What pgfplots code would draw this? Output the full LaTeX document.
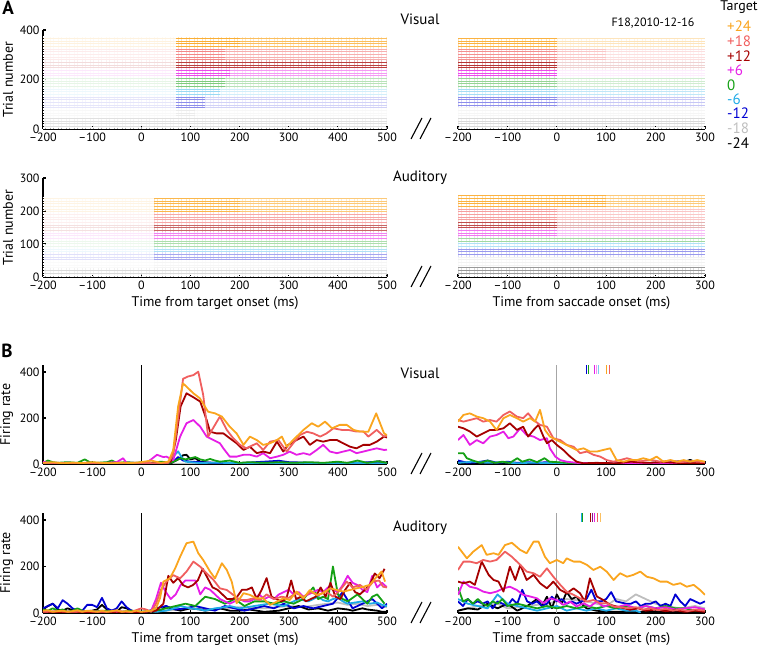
\documentclass[border=0pt]{standalone}
\usepackage{pgfplots}
\pgfplotsset{compat=1.18}
\usetikzlibrary{patterns.meta}
\usepackage{fontspec}
\setmainfont{PT Sans}
\definecolor{cOr}{RGB}{250,165,30}
\definecolor{cSa}{RGB}{240,95,95}
\definecolor{cDr}{RGB}{165,0,0}
\definecolor{cMa}{RGB}{230,30,230}
\definecolor{cGr}{RGB}{20,160,20}
\definecolor{cLb}{RGB}{30,170,230}
\definecolor{cBl}{RGB}{0,0,210}
\definecolor{cGy}{RGB}{190,190,190}
\definecolor{cBk}{RGB}{0,0,0}
% raster band: color, x1, x2, y1, y2, density
\newcommand{\seg}[6]{\addplot[draw=none,fill=#1,fill opacity=#6,forget plot] coordinates {(#2,#4) (#3,#4) (#3,#5) (#2,#5)} -- cycle;}
\newcommand{\rows}[4]{\addplot[draw=none,pattern={Lines[angle=0,distance=1.6pt,line width=0.45pt]},pattern color=white,forget plot] coordinates {(#1,#3) (#2,#3) (#2,#4) (#1,#4)} -- cycle;}
\pgfplotsset{
 common/.style={scale only axis, axis line style={line width=2pt,-}, tick style={line width=1.2pt,black},
   major tick length=3pt, tick align=inside,
   ticklabel style={font=\fontsize{12}{14}\selectfont}, /pgf/number format/assume math mode=true,
   label style={font=\fontsize{14}{16}\selectfont}, xmin=-200, ymin=0, axis x line*=bottom},
 leftp/.style={common, width=344pt, xmax=500, xtick={-200,-100,...,500},
   xticklabels={–200,–100,0,100,200,300,400,500}, axis y line*=left},
 rightp/.style={common, width=247pt, xmax=300, xtick={-200,-100,...,300},
   xticklabels={–200,–100,0,100,200,300}, axis y line=none},
 fr/.style={line width=1.8pt, line join=round, forget plot},
}
\begin{document}
\begin{tikzpicture}
\path[use as bounding box] (0,0) rectangle (760pt,647pt);
%================ Visual raster, target aligned
\begin{axis}[leftp, at={(43pt,518pt)}, anchor=south west, height=99pt, ymax=400, ytick={0,200,400}, ylabel={Trial number}]
\seg{cOr}{-200}{70}{327}{372}{0.14}\seg{cOr}{70}{200}{327}{372}{0.9}\seg{cOr}{200}{500}{327}{372}{0.72}
\seg{cSa}{-200}{70}{279}{327}{0.12}\seg{cSa}{70}{170}{279}{327}{0.75}\seg{cSa}{170}{500}{279}{327}{0.5}
\seg{cDr}{-200}{70}{246}{279}{0.14}\seg{cDr}{70}{500}{246}{279}{0.75}
\seg{cMa}{-200}{70}{206}{246}{0.1}\seg{cMa}{70}{180}{206}{246}{0.8}\seg{cMa}{180}{500}{206}{246}{0.45}
\seg{cGr}{-200}{70}{165}{206}{0.1}\seg{cGr}{70}{170}{165}{206}{0.55}\seg{cGr}{170}{500}{165}{206}{0.3}
\seg{cLb}{-200}{70}{129}{165}{0.08}\seg{cLb}{70}{160}{129}{165}{0.45}\seg{cLb}{160}{500}{129}{165}{0.2}
\seg{cBl}{-200}{70}{85}{129}{0.1}\seg{cBl}{70}{130}{85}{129}{0.45}\seg{cBl}{130}{500}{85}{129}{0.18}
\seg{cGy}{-200}{70}{44}{85}{0.1}\seg{cGy}{70}{110}{44}{85}{0.3}\seg{cGy}{110}{500}{44}{85}{0.12}
\seg{cBk}{-200}{500}{4}{44}{0.12}
\rows{-200}{500}{2}{374}
\end{axis}
\begin{axis}[rightp, at={(458pt,518pt)}, anchor=south west, height=99pt, ymax=400]
\seg{cOr}{-200}{0}{323}{368}{0.85}\seg{cOr}{0}{300}{323}{368}{0.3}
\seg{cSa}{-200}{0}{279}{323}{0.7}\seg{cSa}{0}{100}{279}{323}{0.35}\seg{cSa}{100}{300}{279}{323}{0.2}
\seg{cDr}{-200}{0}{238}{279}{0.8}\seg{cDr}{0}{300}{238}{279}{0.18}
\seg{cMa}{-200}{0}{206}{238}{0.8}\seg{cMa}{0}{300}{206}{238}{0.08}
\seg{cGr}{-200}{0}{165}{206}{0.45}\seg{cGr}{0}{300}{165}{206}{0.2}
\seg{cLb}{-200}{0}{130}{165}{0.4}\seg{cLb}{0}{300}{130}{165}{0.28}
\seg{cBl}{-200}{0}{89}{130}{0.45}\seg{cBl}{0}{300}{89}{130}{0.22}
\seg{cGy}{-200}{300}{44}{89}{0.15}
\seg{cBk}{-200}{300}{4}{44}{0.15}
\rows{-200}{300}{2}{370}
\end{axis}
%================ Auditory raster
\begin{axis}[leftp, at={(43pt,370pt)}, anchor=south west, height=99pt, ymax=300, ytick={0,100,200,300}, ylabel={Trial number}, xlabel={Time from target onset (ms)}]
\seg{cOr}{-200}{25}{197}{239}{0.12}\seg{cOr}{25}{200}{197}{239}{0.8}\seg{cOr}{200}{500}{197}{239}{0.6}
\seg{cSa}{-200}{25}{158}{197}{0.1}\seg{cSa}{25}{500}{158}{197}{0.55}
\seg{cDr}{-200}{25}{136}{158}{0.12}\seg{cDr}{25}{500}{136}{158}{0.6}
\seg{cMa}{-200}{25}{112}{136}{0.1}\seg{cMa}{25}{500}{112}{136}{0.55}
\seg{cGr}{-200}{25}{91}{112}{0.08}\seg{cGr}{25}{500}{91}{112}{0.35}
\seg{cLb}{-200}{25}{76}{91}{0.08}\seg{cLb}{25}{500}{76}{91}{0.35}
\seg{cBl}{-200}{25}{52}{76}{0.12}\seg{cBl}{25}{500}{52}{76}{0.35}
\seg{cGy}{-200}{25}{27}{52}{0.08}\seg{cGy}{25}{500}{27}{52}{0.15}
\seg{cBk}{-200}{500}{6}{27}{0.15}
\rows{-200}{500}{2}{242}
\end{axis}
\begin{axis}[rightp, at={(458pt,370pt)}, anchor=south west, height=99pt, ymax=300, xlabel={Time from saccade onset (ms)}]
\seg{cOr}{-200}{100}{212}{248}{0.85}\seg{cOr}{100}{300}{212}{248}{0.6}
\seg{cSa}{-200}{0}{167}{212}{0.6}\seg{cSa}{0}{300}{167}{212}{0.35}
\seg{cDr}{-200}{0}{148}{167}{0.7}\seg{cDr}{0}{300}{148}{167}{0.3}
\seg{cMa}{-200}{0}{118}{148}{0.6}\seg{cMa}{0}{300}{118}{148}{0.3}
\seg{cGr}{-200}{300}{106}{118}{0.4}
\seg{cLb}{-200}{300}{88}{106}{0.35}
\seg{cBl}{-200}{300}{61}{88}{0.4}
\seg{cGy}{-200}{300}{30}{61}{0.2}
\seg{cBk}{-200}{300}{6}{30}{0.4}
\rows{-200}{300}{2}{250}
\end{axis}
%================ Visual firing rate, target aligned
\begin{axis}[leftp, at={(43pt,183pt)}, anchor=south west, height=99pt, ymax=430, ytick={0,200,400}, ylabel={Firing rate}]
\addplot[black, line width=0.6pt, forget plot] coordinates {(0,0) (0,430)};
\addplot[fr, cGy] coordinates {(-200,2) (0,1) (200,2) (500,2)};
\addplot[fr, cBk] coordinates {(-200,2)(-100,3)(0,2)(60,3)(75,20)(85,38)(92,40)(100,20)(110,25)(120,10)(140,5)(200,3)(300,4)(400,3)(470,5)(485,12)(500,4)};
\addplot[fr, cBl] coordinates {(-200,3)(-100,2)(0,3)(50,2)(65,10)(75,30)(85,15)(100,10)(120,8)(150,5)(200,4)(250,10)(280,14)(300,8)(350,5)(400,4)(450,6)(480,10)(500,5)};
\addplot[fr, cLb] coordinates {(-200,2)(-100,3)(0,2)(50,3)(60,10)(68,40)(75,55)(82,30)(90,10)(100,8)(120,4)(150,6)(200,3)(250,5)(300,3)(350,4)(400,3)(450,4)(500,3)};
\addplot[fr, cGr] coordinates {(-200,5)(-190,15)(-180,8)(-170,5)(-150,8)(-130,5)(-115,20)(-105,8)(-90,5)(-70,8)(-60,15)(-50,5)(-30,8)(-10,5)(0,8)(20,5)(40,10)(60,5)(70,15)(80,25)(90,20)(100,25)(110,30)(120,20)(130,15)(140,22)(150,15)(160,10)(180,15)(200,5)(220,8)(250,5)(280,8)(310,5)(340,8)(370,5)(400,10)(420,5)(440,15)(460,5)(480,12)(500,5)};
\addplot[fr, cMa] coordinates {(-200,10)(-190,5)(-170,3)(-150,5)(-130,3)(-110,5)(-90,3)(-70,5)(-50,8)(-37,25)(-30,5)(-10,5)(0,3)(10,5)(20,20)(32,40)(45,30)(51,32)(65,17)(79,119)(92,177)(106,191)(120,162)(133,119)(147,104)(160,90)(167,68)(180,32)(194,32)(208,40)(221,40)(235,32)(248,47)(262,25)(276,32)(289,40)(302,54)(316,40)(330,47)(343,40)(357,61)(370,83)(384,54)(398,47)(411,54)(425,61)(438,47)(452,54)(465,61)(479,68)(494,61)(500,62)};
\addplot[fr, cDr] coordinates {(-200,2)(-150,4)(-100,2)(-50,4)(0,2)(40,3)(60,10)(70,100)(80,250)(92,307)(106,290)(120,271)(133,191)(140,140)(153,133)(167,133)(180,112)(194,90)(208,61)(221,75)(235,47)(248,54)(262,47)(276,97)(289,54)(299,83)(316,104)(330,119)(343,83)(357,104)(370,97)(384,104)(398,104)(411,90)(425,75)(438,68)(452,83)(465,83)(479,97)(494,119)(500,115)};
\addplot[fr, cSa] coordinates {(-200,3)(-170,5)(-140,2)(-110,5)(-80,3)(-50,5)(-20,3)(0,5)(30,3)(55,5)(65,40)(75,200)(85,370)(95,380)(106,386)(116,401)(126,300)(136,119)(150,170)(160,206)(174,148)(187,112)(201,83)(214,68)(235,90)(248,61)(262,97)(279,104)(296,54)(309,90)(323,126)(337,140)(350,133)(364,119)(377,133)(391,155)(408,148)(421,148)(438,141)(452,141)(462,119)(479,148)(494,119)(500,125)};
\addplot[fr, cOr] coordinates {(-200,5)(-180,8)(-160,3)(-140,6)(-120,4)(-100,8)(-80,5)(-60,3)(-40,6)(-20,4)(0,8)(20,15)(40,5)(55,10)(65,60)(75,250)(85,350)(95,330)(106,307)(119,286)(136,227)(150,220)(164,206)(180,162)(194,133)(208,83)(221,119)(235,104)(248,83)(262,90)(276,104)(286,119)(296,75)(309,104)(330,148)(347,177)(360,162)(374,184)(388,155)(404,170)(418,170)(432,148)(445,141)(462,140)(478,220)(494,133)(500,125)};
\end{axis}
\begin{axis}[rightp, at={(458pt,183pt)}, anchor=south west, height=99pt, ymax=430]
\addplot[gray!70, line width=1.2pt, forget plot] coordinates {(0,0) (0,430)};
\addplot[fr, cBk] coordinates {(-200,3)(-100,2)(0,3)(100,2)(200,4)(260,10)(270,18)(280,8)(300,3)};
\addplot[fr, cBl] coordinates {(-200,15)(-180,5)(-160,8)(-140,15)(-120,5)(-100,10)(-80,5)(-60,8)(-40,5)(-20,8)(0,5)(50,3)(100,4)(150,3)(200,5)(250,12)(280,8)(300,5)};
\addplot[fr, cLb] coordinates {(-200,5)(-170,10)(-140,5)(-110,8)(-80,3)(-50,6)(-20,4)(0,5)(50,3)(100,2)(200,3)(300,2)};
\addplot[fr, cGr] coordinates {(-200,47)(-189,47)(-182,25)(-170,15)(-155,5)(-140,15)(-125,5)(-110,10)(-95,5)(-80,25)(-70,10)(-55,20)(-40,8)(-25,25)(-15,10)(0,8)(20,5)(50,3)(100,4)(150,3)(200,5)(250,3)(300,4)};
\addplot[fr, cMa] coordinates {(-200,104)(-189,126)(-176,83)(-162,104)(-149,90)(-135,119)(-122,126)(-108,141)(-98,112)(-88,119)(-74,155)(-61,126)(-47,119)(-34,104)(-20,112)(-14,68)(-3,32)(7,17)(20,10)(40,5)(80,3)(150,4)(220,3)(300,4)};
\addplot[fr, cDr] coordinates {(-200,162)(-189,155)(-176,141)(-162,119)(-149,133)(-135,148)(-122,148)(-108,155)(-95,177)(-81,148)(-68,162)(-58,119)(-47,148)(-37,170)(-27,119)(-20,90)(-10,104)(0,83)(13,61)(27,32)(40,10)(54,3)(80,5)(120,3)(150,10)(180,5)(220,8)(260,3)(300,5)};
\addplot[fr, cSa] coordinates {(-200,191)(-189,184)(-176,191)(-162,199)(-149,184)(-135,191)(-122,184)(-108,213)(-95,228)(-81,206)(-68,199)(-58,220)(-47,191)(-34,170)(-20,162)(-7,112)(7,104)(20,83)(34,75)(47,47)(61,54)(74,40)(88,32)(101,17)(115,10)(128,17)(142,25)(155,17)(170,12)(190,18)(210,10)(230,15)(250,8)(270,12)(300,8)};
\addplot[fr, cOr] coordinates {(-200,184)(-189,213)(-176,220)(-162,206)(-149,199)(-135,184)(-122,148)(-108,199)(-95,213)(-81,199)(-68,184)(-54,199)(-44,184)(-34,235)(-24,148)(-14,119)(0,104)(13,90)(27,75)(40,61)(54,68)(67,54)(81,54)(94,61)(108,68)(121,17)(135,10)(148,17)(162,17)(175,25)(189,17)(202,32)(216,10)(230,17)(243,10)(257,17)(270,10)(284,17)(300,10)};
\addplot[cBl, only marks, mark=|, mark size=4.5pt, mark options={line width=0.8pt}, forget plot] coordinates {(59,410)};
\addplot[cGr, only marks, mark=|, mark size=4.5pt, mark options={line width=0.8pt}, forget plot] coordinates {(63,410)};
\addplot[cMa, only marks, mark=|, mark size=4.5pt, mark options={line width=0.8pt}, forget plot] coordinates {(76,410)};
\addplot[cMa!50, only marks, mark=|, mark size=4.5pt, mark options={line width=0.8pt}, forget plot] coordinates {(81,410)};
\addplot[cLb!60, only marks, mark=|, mark size=4.5pt, mark options={line width=0.8pt}, forget plot] coordinates {(85,410)};
\addplot[cOr, only marks, mark=|, mark size=4.5pt, mark options={line width=0.8pt}, forget plot] coordinates {(101,410)};
\addplot[cSa, only marks, mark=|, mark size=4.5pt, mark options={line width=0.8pt}, forget plot] coordinates {(106,410)};
\end{axis}
%================ Auditory firing rate, target aligned
\begin{axis}[leftp, at={(43pt,34pt)}, anchor=south west, height=100pt, ymax=430, ytick={0,200,400}, ylabel={Firing rate}, xlabel={Time from target onset (ms)}]
\addplot[black, line width=0.6pt, forget plot] coordinates {(0,0) (0,430)};
\addplot[fr, cGy] coordinates {(-200,3)(-100,5)(0,3)(50,10)(100,20)(150,15)(200,25)(250,20)(300,30)(330,25)(360,35)(380,40)(400,45)(420,35)(440,40)(460,30)(480,35)(500,25)};
\addplot[fr, cBk] coordinates {(-200,15)(-190,30)(-180,40)(-170,15)(-160,10)(-150,20)(-130,5)(-110,8)(-100,10)(-90,15)(-80,35)(-70,15)(-60,10)(-50,5)(-40,25)(-30,20)(-20,10)(-10,5)(0,3)(20,5)(40,10)(50,30)(60,20)(80,10)(100,20)(120,15)(130,10)(160,20)(180,10)(200,10)(220,15)(250,5)(280,10)(300,20)(320,30)(340,15)(360,20)(380,10)(400,20)(420,15)(430,10)(450,20)(460,15)(480,10)(490,5)(500,5)};
\addplot[fr, cBl] coordinates {(-200,20)(-190,30)(-180,40)(-170,20)(-160,55)(-150,40)(-140,20)(-130,10)(-120,10)(-110,35)(-100,35)(-90,25)(-80,65)(-70,20)(-60,10)(-50,20)(-40,50)(-30,25)(-20,10)(-10,5)(0,5)(10,5)(30,20)(50,30)(70,15)(90,20)(110,30)(130,20)(150,10)(170,30)(190,20)(210,10)(230,20)(250,30)(270,20)(290,40)(310,20)(330,30)(350,20)(370,30)(390,40)(410,90)(430,20)(450,40)(470,60)(490,20)(500,40)};
\addplot[fr, cLb] coordinates {(-200,5)(-150,3)(-100,5)(-50,3)(0,5)(20,10)(30,5)(50,10)(60,15)(80,30)(100,20)(120,15)(130,10)(150,20)(170,25)(180,30)(200,20)(215,25)(230,30)(245,35)(260,40)(275,35)(290,30)(305,45)(320,60)(330,55)(340,50)(350,60)(360,70)(370,55)(380,50)(390,60)(400,65)(410,50)(420,40)(435,45)(450,50)(465,40)(480,45)(490,35)(500,30)};
\addplot[fr, cGr] coordinates {(-200,15)(-190,10)(-180,20)(-170,10)(-160,15)(-150,5)(-140,10)(-130,20)(-120,10)(-100,5)(-80,10)(-60,8)(-40,5)(-20,10)(0,5)(20,8)(40,15)(50,20)(70,30)(90,40)(110,30)(130,70)(150,60)(170,40)(190,60)(210,30)(230,50)(250,50)(270,40)(290,50)(310,40)(330,60)(350,110)(360,60)(370,70)(380,60)(390,200)(400,80)(410,60)(420,50)(440,80)(460,40)(470,70)(480,80)(495,40)};
\addplot[fr, cMa] coordinates {(-200,3)(-100,5)(0,3)(20,10)(30,60)(40,130)(50,90)(60,60)(70,80)(80,120)(90,140)(100,140)(110,140)(120,80)(130,110)(140,100)(150,80)(160,60)(170,50)(180,40)(190,50)(200,60)(210,50)(220,50)(230,60)(240,80)(250,60)(260,70)(270,60)(280,80)(290,90)(300,100)(310,80)(320,90)(330,70)(340,80)(350,90)(360,100)(370,90)(380,110)(390,100)(400,90)(410,120)(420,160)(430,130)(440,120)(450,100)(460,90)(470,160)(480,110)(490,130)(500,110)};
\addplot[fr, cDr] coordinates {(-200,3)(-150,5)(-100,3)(-50,5)(0,3)(30,10)(45,40)(55,160)(65,130)(75,150)(85,120)(95,110)(105,120)(115,140)(125,190)(135,150)(145,110)(155,100)(165,80)(175,60)(185,60)(195,70)(205,100)(215,100)(225,110)(235,60)(245,100)(255,150)(265,70)(275,60)(285,50)(295,60)(305,140)(315,60)(325,70)(335,50)(345,60)(355,70)(365,110)(375,70)(385,130)(395,70)(405,60)(415,100)(425,130)(435,90)(445,80)(455,100)(465,120)(475,170)(485,150)(495,190)};
\addplot[fr, cSa] coordinates {(-200,5)(-170,8)(-140,5)(-110,8)(-80,5)(-50,8)(-20,5)(0,20)(10,15)(20,5)(30,40)(40,100)(51,135)(65,163)(79,149)(92,178)(106,221)(120,199)(133,171)(147,142)(160,106)(174,99)(187,78)(201,56)(215,56)(228,63)(242,56)(255,80)(270,60)(285,70)(300,65)(315,85)(330,70)(345,90)(360,75)(375,95)(390,70)(405,100)(418,135)(430,110)(445,121)(458,100)(472,135)(484,140)(492,113)(500,110)};
\addplot[fr, cOr] coordinates {(-200,10)(-190,12)(-180,5)(-170,8)(-160,10)(-150,5)(-140,8)(-130,12)(-120,5)(-110,10)(-100,8)(-90,5)(-80,10)(-70,5)(-60,8)(-50,12)(-40,5)(-30,8)(-20,5)(-10,10)(0,5)(10,8)(20,10)(30,20)(38,63)(45,135)(58,149)(69,192)(79,242)(92,300)(106,307)(116,257)(126,228)(140,178)(150,149)(164,214)(174,185)(184,135)(194,42)(208,85)(221,78)(235,63)(248,63)(262,35)(276,49)(289,63)(302,56)(316,92)(330,63)(343,99)(357,78)(370,85)(384,106)(398,99)(411,92)(425,99)(438,106)(452,113)(465,121)(479,156)(489,178)(496,135)};
\end{axis}
\begin{axis}[rightp, at={(458pt,34pt)}, anchor=south west, height=100pt, ymax=430, xlabel={Time from saccade onset (ms)}]
\addplot[gray!70, line width=1.2pt, forget plot] coordinates {(0,0) (0,430)};
\addplot[fr, cGy] coordinates {(-200,10)(-160,30)(-120,40)(-100,20)(-60,30)(-20,40)(20,60)(60,50)(80,40)(100,30)(120,60)(140,50)(160,80)(180,60)(200,40)(220,30)(250,20)(280,30)(300,20)};
\addplot[fr, cBk] coordinates {(-200,10)(-180,20)(-160,15)(-140,40)(-120,20)(-100,40)(-80,10)(-60,30)(-40,60)(-30,30)(-20,70)(-10,20)(0,80)(10,40)(20,90)(30,60)(40,70)(50,40)(60,20)(80,10)(100,5)(140,5)(200,5)(300,5)};
\addplot[fr, cBl] coordinates {(-200,50)(-190,30)(-180,60)(-170,40)(-160,50)(-150,40)(-140,50)(-130,20)(-120,50)(-110,40)(-100,30)(-90,60)(-80,40)(-70,100)(-60,50)(-50,40)(-40,50)(-30,30)(-20,40)(-10,70)(0,50)(10,60)(20,40)(30,50)(40,40)(60,60)(70,100)(80,50)(90,50)(100,60)(110,90)(120,50)(140,40)(150,40)(160,50)(170,30)(180,40)(190,40)(200,50)(210,30)(220,40)(230,30)(240,80)(250,50)(260,30)(270,60)(280,50)(290,40)(300,50)};
\addplot[fr, cLb] coordinates {(-200,60)(-180,40)(-160,30)(-140,20)(-120,80)(-100,40)(-80,30)(-60,20)(-40,10)(-20,20)(0,30)(20,10)(40,20)(60,10)(80,20)(100,10)(120,20)(140,10)(160,10)(170,2)};
\addplot[fr, cGr] coordinates {(-200,110)(-190,50)(-180,60)(-170,40)(-160,60)(-150,40)(-140,30)(-130,50)(-120,40)(-110,60)(-100,30)(-80,40)(-60,30)(-40,20)(-20,30)(0,20)(20,30)(40,20)(60,30)(80,20)(100,30)(120,20)(140,30)(160,20)(180,30)(200,20)(220,30)(240,20)(260,20)(280,10)(300,10)};
\addplot[fr, cMa] coordinates {(-200,78)(-189,135)(-176,113)(-162,106)(-149,92)(-135,85)(-122,92)(-108,106)(-95,113)(-81,99)(-68,78)(-54,71)(-40,63)(-27,42)(-14,63)(0,56)(13,35)(27,49)(40,28)(54,42)(67,28)(81,49)(94,28)(108,35)(120,25)(140,35)(160,20)(180,30)(200,20)(220,25)(240,15)(260,20)(280,25)(300,15)};
\addplot[fr, cDr] coordinates {(-200,135)(-189,128)(-176,135)(-166,121)(-152,221)(-138,164)(-128,142)(-118,135)(-108,92)(-95,199)(-84,142)(-74,207)(-61,142)(-47,164)(-34,128)(-20,106)(-7,135)(7,99)(20,85)(34,106)(47,85)(57,49)(67,149)(81,71)(94,56)(108,35)(121,28)(135,21)(148,14)(165,20)(180,10)(200,15)(220,8)(240,12)(260,5)(280,10)(300,5)};
\addplot[fr, cSa] coordinates {(-200,185)(-189,221)(-176,221)(-162,214)(-149,228)(-135,221)(-122,228)(-105,264)(-91,242)(-74,207)(-61,178)(-47,171)(-34,156)(-20,192)(-7,156)(7,121)(20,92)(34,78)(47,63)(61,49)(74,56)(88,42)(101,42)(115,28)(130,25)(145,20)(160,25)(175,15)(190,20)(205,12)(220,18)(235,10)(250,15)(265,8)(280,15)(300,10)};
\addplot[fr, cOr] coordinates {(-200,285)(-182,235)(-169,264)(-152,292)(-142,250)(-128,257)(-118,250)(-105,292)(-91,302)(-74,271)(-61,257)(-47,307)(-37,307)(-24,242)(-14,214)(0,228)(13,214)(20,235)(34,221)(47,221)(61,207)(74,185)(88,199)(101,178)(115,142)(128,171)(142,156)(155,164)(169,178)(182,156)(196,149)(209,135)(223,135)(236,121)(250,128)(263,113)(277,121)(290,99)(300,78)};
\addplot[cLb, only marks, mark=|, mark size=4.5pt, mark options={line width=0.8pt}, forget plot] coordinates {(49,411)};
\addplot[cGr, only marks, mark=|, mark size=4.5pt, mark options={line width=0.8pt}, forget plot] coordinates {(52,411)};
\addplot[cDr, only marks, mark=|, mark size=4.5pt, mark options={line width=0.8pt}, forget plot] coordinates {(69,411)};
\addplot[cMa!60!black, only marks, mark=|, mark size=4.5pt, mark options={line width=0.8pt}, forget plot] coordinates {(73,411)};
\addplot[cMa, only marks, mark=|, mark size=4.5pt, mark options={line width=0.8pt}, forget plot] coordinates {(77,411)};
\addplot[cSa, only marks, mark=|, mark size=4.5pt, mark options={line width=0.8pt}, forget plot] coordinates {(83,411)};
\addplot[cOr!70, only marks, mark=|, mark size=4.5pt, mark options={line width=0.8pt}, forget plot] coordinates {(89,411)};
\end{axis}
%================ annotations
\node[font=\bfseries\fontsize{19}{21}\selectfont] at (8pt,639pt) {A};
\node[font=\bfseries\fontsize{19}{21}\selectfont] at (7pt,296pt) {B};
\node[font=\fontsize{15}{17}\selectfont] at (420pt,628pt) {Visual};
\node[font=\fontsize{15}{17}\selectfont] at (420pt,469pt) {Auditory};
\node[font=\fontsize{15}{17}\selectfont] at (420pt,274pt) {Visual};
\node[font=\fontsize{15}{17}\selectfont] at (420pt,119pt) {Auditory};
\node[font=\fontsize{12}{14}\selectfont] at (653pt,624pt) {F18,2010-12-16};
\node[font=\fontsize{14}{16}\selectfont] at (739pt,640pt) {Target};
\begin{scope}[every node/.style={anchor=west, font=\fontsize{15}{17}\selectfont, inner sep=0pt}]
\node[text=cOr] at (727pt,621pt) {+24};
\node[text=cSa] at (727pt,606pt) {+18};
\node[text=cDr] at (727pt,591pt) {+12};
\node[text=cMa] at (727pt,577pt) {+6};
\node[text=cGr] at (727pt,562pt) {0};
\node[text=cLb] at (727pt,548pt) {-6};
\node[text=cBl] at (727pt,534pt) {-12};
\node[text=cGy] at (727pt,519pt) {-18};
\node[text=cBk] at (727pt,504pt) {-24};
\end{scope}
\begin{scope}[line width=1.1pt]
\draw (411pt,508pt)--(422pt,529pt) (420pt,508pt)--(431pt,529pt);
\draw (411pt,360pt)--(422pt,381pt) (420pt,360pt)--(431pt,381pt);
\draw (411pt,173pt)--(422pt,194pt) (420pt,173pt)--(431pt,194pt);
\draw (411pt,24pt)--(422pt,45pt) (420pt,24pt)--(431pt,45pt);
\end{scope}
\end{tikzpicture}
\end{document}
